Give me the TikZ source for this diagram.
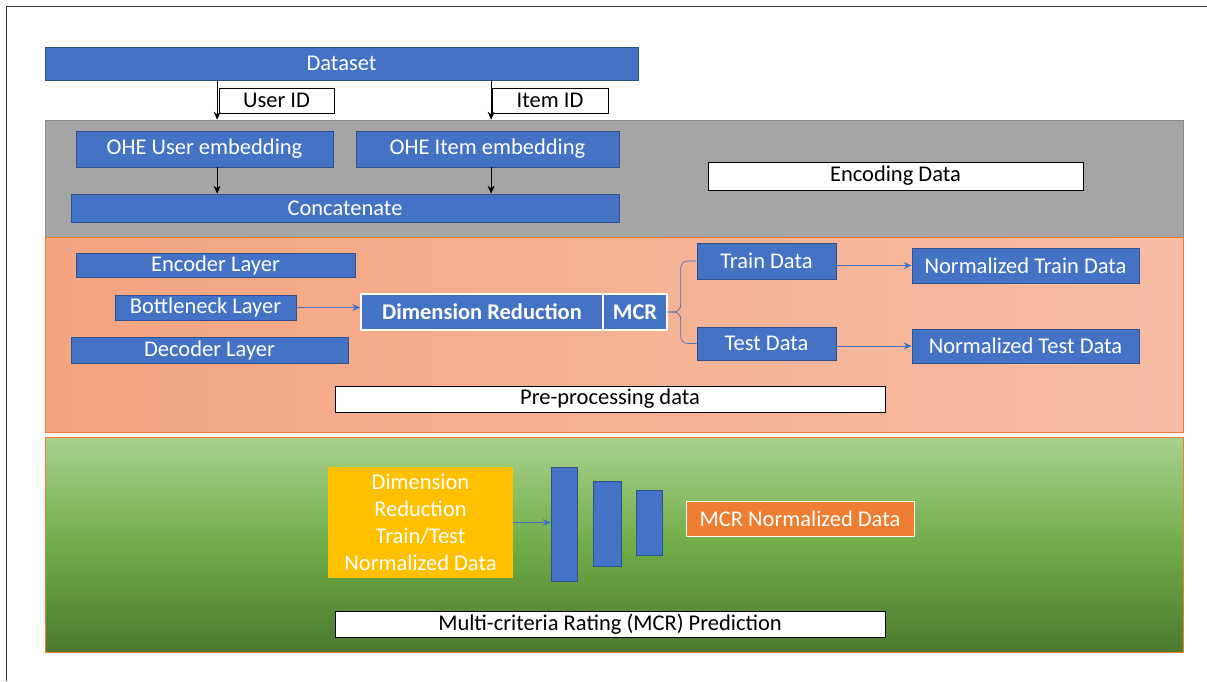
\documentclass[tikz,border=0pt]{standalone}
\usepackage{fontspec}
\setmainfont{Carlito}
\usepackage{xcolor}
\usetikzlibrary{arrows.meta,positioning,calc}
\definecolor{boxBlue}{HTML}{4472C4}
\definecolor{edgeBlue}{HTML}{2F528F}
\definecolor{panelGray}{HTML}{A5A5A5}
\definecolor{edgeGray}{HTML}{8A8A8A}
\definecolor{panelOrange}{HTML}{ED7D31}
\definecolor{orLeft}{HTML}{F4A480}
\definecolor{orRight}{HTML}{F7BDA4}
\definecolor{grTop}{HTML}{A9D18E}
\definecolor{grMid}{HTML}{70AD47}
\definecolor{grBot}{HTML}{4B7A2E}
\definecolor{mcrYellow}{HTML}{FFC000}

\begin{document}
\begin{tikzpicture}[x=0.02cm, y=-0.02cm, >=Stealth,
  font=\fontsize{12.8}{15.3}\selectfont,
  wh/.style 2 args={minimum width=#1*0.02cm, minimum height=#2*0.02cm},
  blk/.style={draw=edgeBlue, fill=boxBlue, text=white, inner sep=0pt},
  tag/.style={draw=black, fill=white, inner sep=0pt},
  panel/.style={draw=panelOrange, inner sep=0pt},
  bar/.style={draw=edgeBlue, fill=boxBlue, inner sep=0pt},
  blackarr/.style={-{Stealth[length=4.5pt,width=4pt]}, black, thin},
  bluearr/.style={-{Stealth[length=4.5pt,width=4pt]}, boxBlue, thin}]
\useasboundingbox (0,0) rectangle (1207,681);
\draw[black!80] (1207,6) -- (6,6) -- (6,681);
% --- panels ---
\node[panel, draw=edgeGray, fill=panelGray, wh={1138}{117}] (enc) at (614,178.5) {};
\node[panel, left color=orLeft, right color=orRight, wh={1138}{195}] (pre) at (614,334.5) {};
\node[panel, top color=grTop, bottom color=grBot, middle color=grMid, wh={1138}{215}] (pred) at (614,544.5) {};
% --- encoding data ---
\node[blk, wh={593}{33}] (dataset) at (341.5,63.5) {Dataset};
\node[tag, wh={115}{25}] (userid) at (276.5,100.5) {User ID};
\node[tag, wh={116}{25}] (itemid) at (550,100.5) {Item ID};
\node[blk, wh={257}{36}] (useremb) at (204.5,149) {OHE User embedding};
\node[blk, wh={263}{36}] (itememb) at (487.5,149) {OHE Item embedding};
\node[blk, wh={548}{28}] (concat) at (345,208) {Concatenate};
\node[tag, wh={375}{28}] (enclbl) at (895.5,176) {Encoding Data};
\draw[blackarr] ([xshift=-1.5*0.02cm]dataset.south -| userid.west) -- ([xshift=-1.5*0.02cm]enc.north -| userid.west);
\draw[blackarr] ([xshift=-0.5*0.02cm]dataset.south -| itemid.west) -- ([xshift=-0.5*0.02cm]enc.north -| itemid.west);
\draw[blackarr] ([xshift=-1.5*0.02cm]useremb.south -| userid.west) -- ([xshift=-1.5*0.02cm]concat.north -| userid.west);
\draw[blackarr] ([xshift=-0.5*0.02cm]itememb.south -| itemid.west) -- ([xshift=-0.5*0.02cm]concat.north -| itemid.west);
% --- pre-processing ---
\node[blk, wh={279}{24}] (encoder) at (215.5,265) {Encoder Layer};
\node[blk, wh={181}{25}] (bneck) at (205.5,307.5) {Bottleneck Layer};
\node[blk, wh={277}{26}] (decoder) at (209.5,350) {Decoder Layer};
\node[blk, draw=white, thick, wh={242}{36}, font=\fontsize{12.8}{15}\selectfont\bfseries] (dimred) at (482,312) {Dimension Reduction};
\node[blk, draw=white, thick, wh={64}{36}, font=\fontsize{12.8}{15}\selectfont\bfseries] (mcr) at (635,312) {MCR};
\node[blk, wh={139}{36}] (train) at (766.5,261) {Train Data};
\node[blk, wh={139}{33}] (test) at (766.5,343.5) {Test Data};
\node[blk, wh={227}{35}] (normtrain) at (1025.5,265.5) {Normalized Train Data};
\node[blk, wh={227}{34}] (normtest) at (1025.5,346) {Normalized Test Data};
\node[tag, wh={550}{26}] (prelbl) at (610,399) {Pre-processing data};
\draw[bluearr] (bneck.east) -- (bneck.east -| dimred.west);
\draw[boxBlue, thin, rounded corners=4pt] (mcr.east) -- ++(13,0) |- (train.west);
\draw[boxBlue, thin, rounded corners=4pt] (mcr.east) -- ++(13,0) |- (test.west);
\draw[bluearr] (normtrain.west -| train.east) -- (normtrain.west);
\draw[bluearr] (normtest.west -| test.east) -- (normtest.west);
% --- MCR prediction ---
\node[blk, draw=none, fill=mcrYellow, wh={185}{111}, align=center] (drdata) at (420.5,522.5) {Dimension\\Reduction\\Train/Test\\Normalized Data};
\node[bar, wh={26}{114}] (bar1) at (564,524) {};
\node[bar, wh={28}{85}] (bar2) at (607,523.5) {};
\node[bar, wh={26}{65}] (bar3) at (649,522.5) {};
\node[blk, draw=white, fill=panelOrange, wh={228}{35}] (mcrnorm) at (800,518.5) {MCR Normalized Data};
\node[tag, wh={550}{26}] (predlbl) at (610,624) {Multi-criteria Rating (MCR) Prediction};
\draw[bluearr] (drdata.east) -- (drdata.east -| bar1.west);
\end{tikzpicture}
\end{document}
